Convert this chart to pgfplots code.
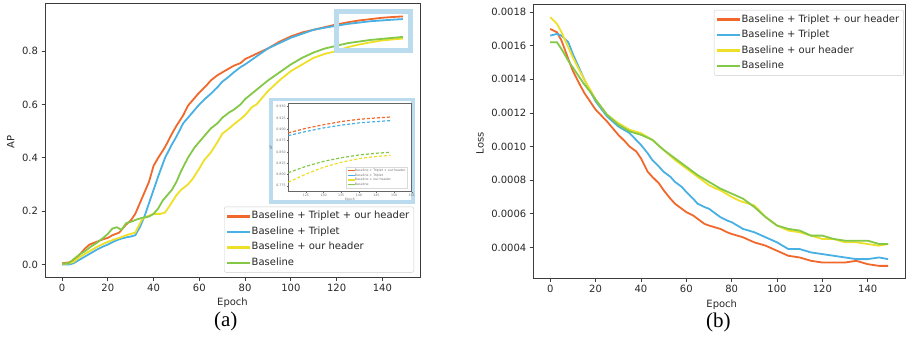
\documentclass[border=0pt]{standalone}
\usepackage{pgfplots}
\pgfplotsset{compat=1.18}
\usepackage{fontspec}
\setmainfont{DejaVu Sans}
\newfontfamily\seriffont{Liberation Serif}
\definecolor{cOr}{RGB}{240,104,44}
\definecolor{cBl}{RGB}{72,176,226}
\definecolor{cYe}{RGB}{238,224,40}
\definecolor{cGr}{RGB}{132,200,72}
\definecolor{axgray}{RGB}{60,60,60}
\definecolor{tgray}{RGB}{40,40,40}
\definecolor{hlblue}{RGB}{186,220,238}

\pgfplotstableread{
x y
0 0.005
3 0.008
5 0.015
8 0.04
10 0.06
12 0.075
15 0.085
18 0.095
20 0.10
22 0.11
25 0.12
28 0.15
30 0.165
32 0.19
35 0.25
38 0.31
40 0.37
42 0.40
45 0.44
48 0.49
50 0.52
53 0.56
55 0.595
58 0.625
60 0.645
63 0.67
65 0.69
68 0.71
70 0.72
73 0.735
75 0.745
78 0.755
80 0.77
85 0.79
90 0.81
95 0.835
100 0.855
105 0.87
110 0.88
115 0.89
120 0.90
125 0.908
130 0.915
135 0.92
140 0.925
145 0.928
149 0.93
}\apOr
\pgfplotstableread{
x y
0 0.0
3 0.0
5 0.005
8 0.02
10 0.03
12 0.04
15 0.055
18 0.068
20 0.075
23 0.088
25 0.095
28 0.102
30 0.105
32 0.11
34 0.14
36 0.18
38 0.23
40 0.28
42 0.33
45 0.40
48 0.45
50 0.48
53 0.53
55 0.55
58 0.58
60 0.60
63 0.625
65 0.64
68 0.665
70 0.685
73 0.705
75 0.72
78 0.74
80 0.75
85 0.78
90 0.81
95 0.83
100 0.85
105 0.865
110 0.88
115 0.888
120 0.895
125 0.902
130 0.907
135 0.912
140 0.915
145 0.918
149 0.92
}\apBl
\pgfplotstableread{
x y
0 0.003
3 0.004
5 0.01
8 0.03
10 0.04
13 0.055
15 0.065
18 0.078
20 0.085
23 0.095
25 0.10
28 0.11
30 0.115
32 0.12
35 0.17
37 0.18
40 0.19
43 0.19
45 0.195
47 0.22
50 0.26
52 0.28
55 0.30
57 0.32
60 0.36
62 0.39
65 0.42
68 0.46
70 0.49
73 0.51
75 0.525
78 0.545
80 0.56
83 0.59
85 0.60
88 0.63
90 0.65
95 0.69
100 0.725
105 0.75
110 0.775
115 0.79
120 0.80
125 0.815
130 0.825
135 0.833
140 0.84
145 0.844
149 0.847
}\apYe
\pgfplotstableread{
x y
0 0.003
3 0.005
5 0.02
8 0.04
10 0.05
13 0.07
15 0.08
18 0.10
20 0.115
22 0.135
24 0.14
26 0.13
28 0.155
30 0.16
33 0.17
35 0.175
38 0.18
40 0.19
42 0.21
44 0.24
46 0.26
48 0.28
50 0.31
52 0.35
55 0.40
58 0.44
60 0.46
63 0.49
65 0.51
68 0.53
70 0.55
73 0.57
75 0.58
78 0.60
80 0.62
85 0.655
90 0.69
95 0.72
100 0.75
105 0.775
110 0.795
115 0.81
120 0.82
125 0.83
130 0.836
135 0.842
140 0.846
145 0.85
149 0.853
}\apGr

\pgfplotstableread{
x y
0 0.00170
3 0.00168
5 0.00163
8 0.00152
10 0.00145
13 0.00137
15 0.00132
18 0.00126
20 0.00122
25 0.00115
30 0.00107
33 0.00103
35 0.00100
38 0.00097
40 0.00093
43 0.00085
45 0.00082
48 0.00078
50 0.00074
53 0.00069
55 0.00066
58 0.00063
60 0.00061
63 0.00059
65 0.00057
68 0.00054
70 0.00053
75 0.00051
78 0.00049
80 0.00048
85 0.00046
90 0.00043
95 0.00041
100 0.00038
105 0.00035
110 0.00034
115 0.00032
120 0.00031
125 0.00031
130 0.00031
135 0.00032
140 0.00030
145 0.00029
149 0.00029
}\lsOr
\pgfplotstableread{
x y
0 0.00166
3 0.00167
5 0.00166
8 0.00162
10 0.00155
13 0.00146
15 0.00140
18 0.00132
20 0.00127
25 0.00118
30 0.00112
35 0.00108
40 0.00101
43 0.00096
45 0.00092
48 0.00088
50 0.00085
53 0.00082
55 0.00079
58 0.00076
60 0.00073
63 0.00069
65 0.00066
68 0.00064
70 0.00063
73 0.00060
75 0.00058
78 0.00056
80 0.00055
85 0.00051
90 0.00049
95 0.00046
100 0.00043
105 0.00039
110 0.00039
115 0.00037
120 0.00036
125 0.00035
130 0.00034
135 0.00033
140 0.00033
145 0.00034
149 0.00033
}\lsBl
\pgfplotstableread{
x y
0 0.00177
3 0.00173
5 0.00168
8 0.00159
10 0.00153
13 0.00145
15 0.00140
18 0.00133
20 0.00128
25 0.00119
30 0.00114
35 0.00110
40 0.00108
45 0.00104
50 0.00098
55 0.00092
60 0.00087
65 0.00082
70 0.00077
73 0.00075
75 0.00074
80 0.00070
83 0.00068
85 0.00067
90 0.00065
95 0.00058
100 0.00053
105 0.00050
110 0.00049
115 0.00047
120 0.00045
125 0.00045
130 0.00043
135 0.00043
140 0.00042
145 0.00041
149 0.00042
}\lsYe
\pgfplotstableread{
x y
0 0.00162
3 0.00162
5 0.00158
8 0.00151
10 0.00147
13 0.00141
15 0.00137
18 0.00132
20 0.00128
25 0.00119
30 0.00113
35 0.00109
40 0.00107
45 0.00104
50 0.00098
55 0.00093
60 0.00088
65 0.00083
70 0.00079
75 0.00075
80 0.00072
85 0.00069
90 0.00064
95 0.00058
100 0.00053
105 0.00051
110 0.00050
115 0.00047
120 0.00047
125 0.00045
130 0.00044
135 0.00044
140 0.00044
145 0.00042
149 0.00042
}\lsGr

\pgfplotstableread{
x o b g y
120 0.892 0.886 0.804 0.783
125 0.902 0.895 0.818 0.801
130 0.910 0.903 0.829 0.816
135 0.917 0.909 0.837 0.827
140 0.922 0.914 0.843 0.835
145 0.925 0.917 0.847 0.840
149 0.927 0.919 0.849 0.842
}\inset

\pgfplotsset{
  myax/.style={
    scale only axis,
    axis line style={draw=axgray, line width=1bp},
    tick style={draw=axgray, line width=0.8bp},
    tick align=outside,
    major tick length=3.5bp,
    xtick pos=bottom, ytick pos=left,
    ticklabel style={font=\fontsize{10bp}{12bp}\selectfont, text=tgray},
    label style={font=\fontsize{10bp}{12bp}\selectfont, text=tgray},
    xmin=-7.45, xmax=156.45,
    xtick={0,20,...,140},
    /pgf/number format/assume math mode=true,
    legend cell align=left,
    legend style={font=\fontsize{10bp}{12bp}\selectfont, text=tgray,
      draw=black!20, rounded corners=2bp, fill=white,
      inner sep=3bp, row sep=2.5bp,
      nodes={text height=7.5bp, text depth=2.5bp, inner sep=1.5bp}},
  },
  pl/.style={line width=1.8bp, solid,
    legend image code/.code={\path[fill=#1, draw=none, sharp corners] (0bp,-1.15bp) rectangle (23bp,1.15bp);}},
  pli/.style={line width=1.2bp, dash pattern=on 3bp off 2bp,
    legend image code/.code={\path[fill=#1, draw=none, sharp corners] (0bp,-0.6bp) rectangle (7bp,0.6bp);}},
}

\begin{document}
\begin{tikzpicture}
\path[use as bounding box] (0bp,0bp) rectangle (906bp,342bp);

% (a) AP
\begin{axis}[myax, at={(45bp,65bp)}, anchor=south west,
  width=375bp, height=273bp,
  ymin=-0.0465, ymax=0.9765,
  ytick={0,0.2,0.4,0.6,0.8},
  yticklabel style={/pgf/number format/.cd, fixed, fixed zerofill, precision=1},
  xlabel={Epoch}, ylabel={AP},
  xlabel style={at={(axis description cs:0.5,-0.096)}, anchor=center},
  ylabel style={at={(axis description cs:-0.0915,0.496)}, anchor=center},
  legend style={at={(rel axis cs:0.984,0.016)}, anchor=south east},
]
\addplot[pl=cOr, color=cOr] table[x=x,y=y] {\apOr};
\addlegendentry{Baseline + Triplet + our header}
\addplot[pl=cBl, color=cBl] table[x=x,y=y] {\apBl};
\addlegendentry{Baseline + Triplet}
\addplot[pl=cYe, color=cYe] table[x=x,y=y] {\apYe};
\addlegendentry{Baseline + our header}
\addplot[pl=cGr, color=cGr] table[x=x,y=y] {\apGr};
\addlegendentry{Baseline}
\end{axis}

% highlight box and inset frame
\draw[hlblue, line width=5bp] (336.5bp,330.5bp) rectangle (410.5bp,291.5bp);
\draw[hlblue, line width=3.5bp, fill=white] (271bp,242.3bp) rectangle (413bp,140bp);

\begin{axis}[at={(288.3bp,150.3bp)}, anchor=south west, scale only axis,
  width=123.4bp, height=88.7bp,
  xmin=120, xmax=155, ymin=0.762, ymax=0.958,
  xtick={125,130,...,155}, ytick={0.775,0.8,0.825,0.85,0.875,0.9,0.925,0.95},
  yticklabel style={/pgf/number format/.cd, fixed, fixed zerofill, precision=3},
  /pgf/number format/assume math mode=true,
  axis line style={draw=black!60, line width=0.5bp},
  tick style={draw=black!60, line width=0.4bp},
  tick align=outside, major tick length=1.5bp,
  xtick pos=bottom, ytick pos=left,
  ticklabel style={font=\fontsize{3.2bp}{4bp}\selectfont, text=black!55, inner sep=1bp},
  xlabel={Epoch}, ylabel={AP},
  label style={font=\fontsize{3.2bp}{4bp}\selectfont, text=black!55},
  xlabel style={at={(axis description cs:0.5,-0.09)}, anchor=center},
  ylabel style={at={(axis description cs:-0.14,0.5)}, anchor=center},
  legend cell align=left,
  legend style={font=\fontsize{3.2bp}{4bp}\selectfont, text=black!55,
    draw=black!15, fill=white, inner sep=1bp, row sep=0.4bp,
    nodes={text height=2.6bp, text depth=0.9bp, inner sep=0.4bp},
    at={(rel axis cs:0.962,0.042)}, anchor=south east},
]
\addplot[pli=cOr, color=cOr] table[x=x,y=o] {\inset};
\addlegendentry{Baseline + Triplet + our header}
\addplot[pli=cBl, color=cBl] table[x=x,y=b] {\inset};
\addlegendentry{Baseline + Triplet}
\addplot[pli=cYe, color=cYe] table[x=x,y=y] {\inset};
\addlegendentry{Baseline + our header}
\addplot[pli=cGr, color=cGr] table[x=x,y=g] {\inset};
\addlegendentry{Baseline}
\end{axis}

% (b) Loss
\begin{axis}[myax, at={(533.3bp,63.7bp)}, anchor=south west,
  width=371.7bp, height=273.6bp,
  ymin=0.000216, ymax=0.001844,
  ytick={0.0004,0.0006,0.0008,0.0010,0.0012,0.0014,0.0016,0.0018},
  scaled y ticks=false,
  yticklabel style={/pgf/number format/.cd, fixed, fixed zerofill, precision=4},
  xlabel={Epoch}, ylabel={Loss},
  xlabel style={at={(axis description cs:0.507,-0.0976)}, anchor=center},
  ylabel style={at={(axis description cs:-0.1434,0.494)}, anchor=center},
  legend style={at={(rel axis cs:0.997,0.981)}, anchor=north east},
]
\addplot[pl=cOr, color=cOr] table[x=x,y=y] {\lsOr};
\addlegendentry{Baseline + Triplet + our header}
\addplot[pl=cBl, color=cBl] table[x=x,y=y] {\lsBl};
\addlegendentry{Baseline + Triplet}
\addplot[pl=cYe, color=cYe] table[x=x,y=y] {\lsYe};
\addlegendentry{Baseline + our header}
\addplot[pl=cGr, color=cGr] table[x=x,y=y] {\lsGr};
\addlegendentry{Baseline}
\end{axis}

\node[font=\seriffont\fontsize{21bp}{24bp}\selectfont] at (225.7bp,20.3bp) {(a)};
\node[font=\seriffont\fontsize{21bp}{24bp}\selectfont] at (718.3bp,20bp) {(b)};
\end{tikzpicture}
\end{document}
